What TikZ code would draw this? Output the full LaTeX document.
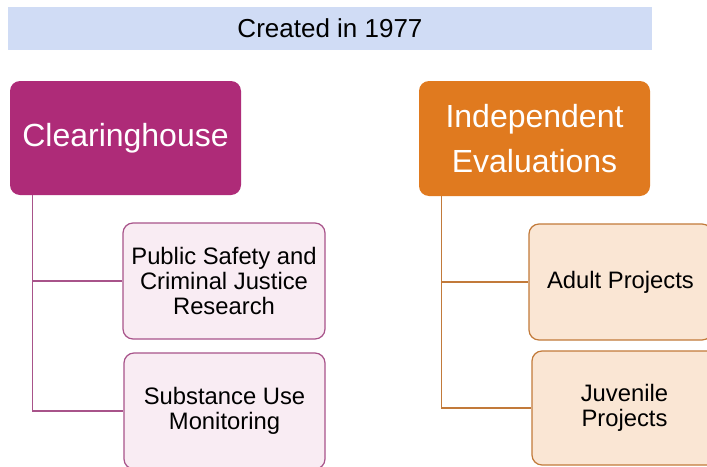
\documentclass[tikz,border=0pt]{standalone}
\usepackage{fontspec}
\setmainfont{Liberation Sans}
\definecolor{banner}{HTML}{D0DCF5}
\definecolor{chfill}{HTML}{AE2B78}
\definecolor{iefill}{HTML}{E07A1F}
\definecolor{pinkfill}{HTML}{F9ECF3}
\definecolor{pinkline}{HTML}{A8538A}
\definecolor{orfill}{HTML}{FAE6D4}
\definecolor{orline}{HTML}{C27A3A}
\tikzset{
  mainbox/.style={rectangle, rounded corners=10pt, inner sep=0pt, text=white, align=center,
    font=\fontsize{32}{45}\selectfont},
  pinkbox/.style={rectangle, rounded corners=10pt, inner sep=0pt, fill=pinkfill, draw=pinkline,
    line width=1.2pt, align=center, font=\fontsize{23.8}{25}\selectfont},
  orbox/.style={rectangle, rounded corners=10pt, inner sep=0pt, fill=orfill, draw=orline,
    line width=1.2pt, align=center, font=\fontsize{23.8}{25}\selectfont},
  pinkconn/.style={draw=pinkline, line width=1.2pt},
  orconn/.style={draw=orline, line width=1.2pt}
}
\begin{document}
\begin{tikzpicture}[x=1pt,y=-1pt]
\useasboundingbox (0,0) rectangle (707,466);
\fill[white] (0,0) rectangle (707,466);
\node[rectangle, fill=banner, minimum width=644pt, minimum height=43pt, inner sep=0pt,
  font=\fontsize{26}{30}\selectfont] (banner) at (330,28.5) {Created in 1977};
\node[mainbox, fill=chfill, minimum width=231pt, minimum height=114pt] (ch) at (125.5,138) {Clearinghouse};
\node[mainbox, fill=iefill, minimum width=231pt, minimum height=115pt] (ie) at (534.5,138.5) {Independent\\Evaluations};
\node[pinkbox, minimum width=202pt, minimum height=116pt] (c1) at (224,281) {Public Safety and\\Criminal Justice\\Research};
\node[pinkbox, minimum width=201pt, minimum height=116pt] (c2) at (224.5,411) {Substance Use\\Monitoring};
\node[orbox, minimum width=183pt, minimum height=116pt] (c3) at (620.5,282) {Adult Projects};
\node[orbox, minimum width=185pt, minimum height=114pt] (c4) at (624.5,408) {Juvenile\\Projects};
\coordinate (chs) at ([xshift=23pt]ch.south west);
\coordinate (ies) at ([xshift=23pt]ie.south west);
\draw[pinkconn] (chs) |- (c1.west);
\draw[pinkconn] (chs) |- (c2.west);
\draw[orconn] (ies) |- (c3.west);
\draw[orconn] (ies) |- (c4.west);
\end{tikzpicture}
\end{document}
